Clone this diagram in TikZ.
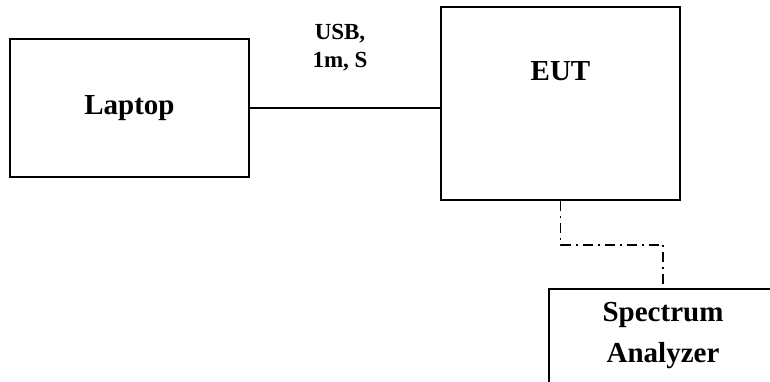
\documentclass[tikz,border=0pt]{standalone}
\usepackage{fontspec}
\setmainfont{Liberation Serif}
\usetikzlibrary{positioning,calc}

\begin{document}
\begin{tikzpicture}[
      x=1pt, y=1pt,
      box/.style={draw,line width=1.6pt,inner sep=0pt},
      lbl/.style={font=\fontsize{29}{41}\selectfont\bfseries,align=center},
      cbl/.style={font=\fontsize{23}{28}\selectfont\bfseries,align=center},
      cable/.style={line width=1.4pt},
      dashdot/.style={line width=1.5pt,dash pattern=on 10pt off 5pt on 2pt off 5pt},
    ]
    \useasboundingbox (0,0) rectangle (770,381);
    \clip (0,0) rectangle (770,381);

    % ── Boxes ──────────────────────────────────────────────────────────────
    \node[box,lbl,minimum width=239,minimum height=138] (laptop) at (129.5,273) {Laptop};
    \node[box,minimum width=239,minimum height=193]     (eut)    at (560.5,277.5) {};
    \node[lbl] (euttext) at (560.5,310) {EUT};
    \node[box,lbl,minimum width=228,minimum height=94]  (spa)    at (663,45) {Spectrum\\Analyzer};

    % ── USB cable ──────────────────────────────────────────────────────────
    \draw[cable] (laptop) -- (laptop -| eut.west);
    \node[cbl] (usb) at (340,333.5) {USB,\\1m, S};

    % ── Spectrum analyzer link ─────────────────────────────────────────────
    \coordinate (bend) at ($(eut.south)+(0,-44)$);
    \draw[dashdot] (eut.south) -- (bend) -| (spa.north);

\end{tikzpicture}
\end{document}
